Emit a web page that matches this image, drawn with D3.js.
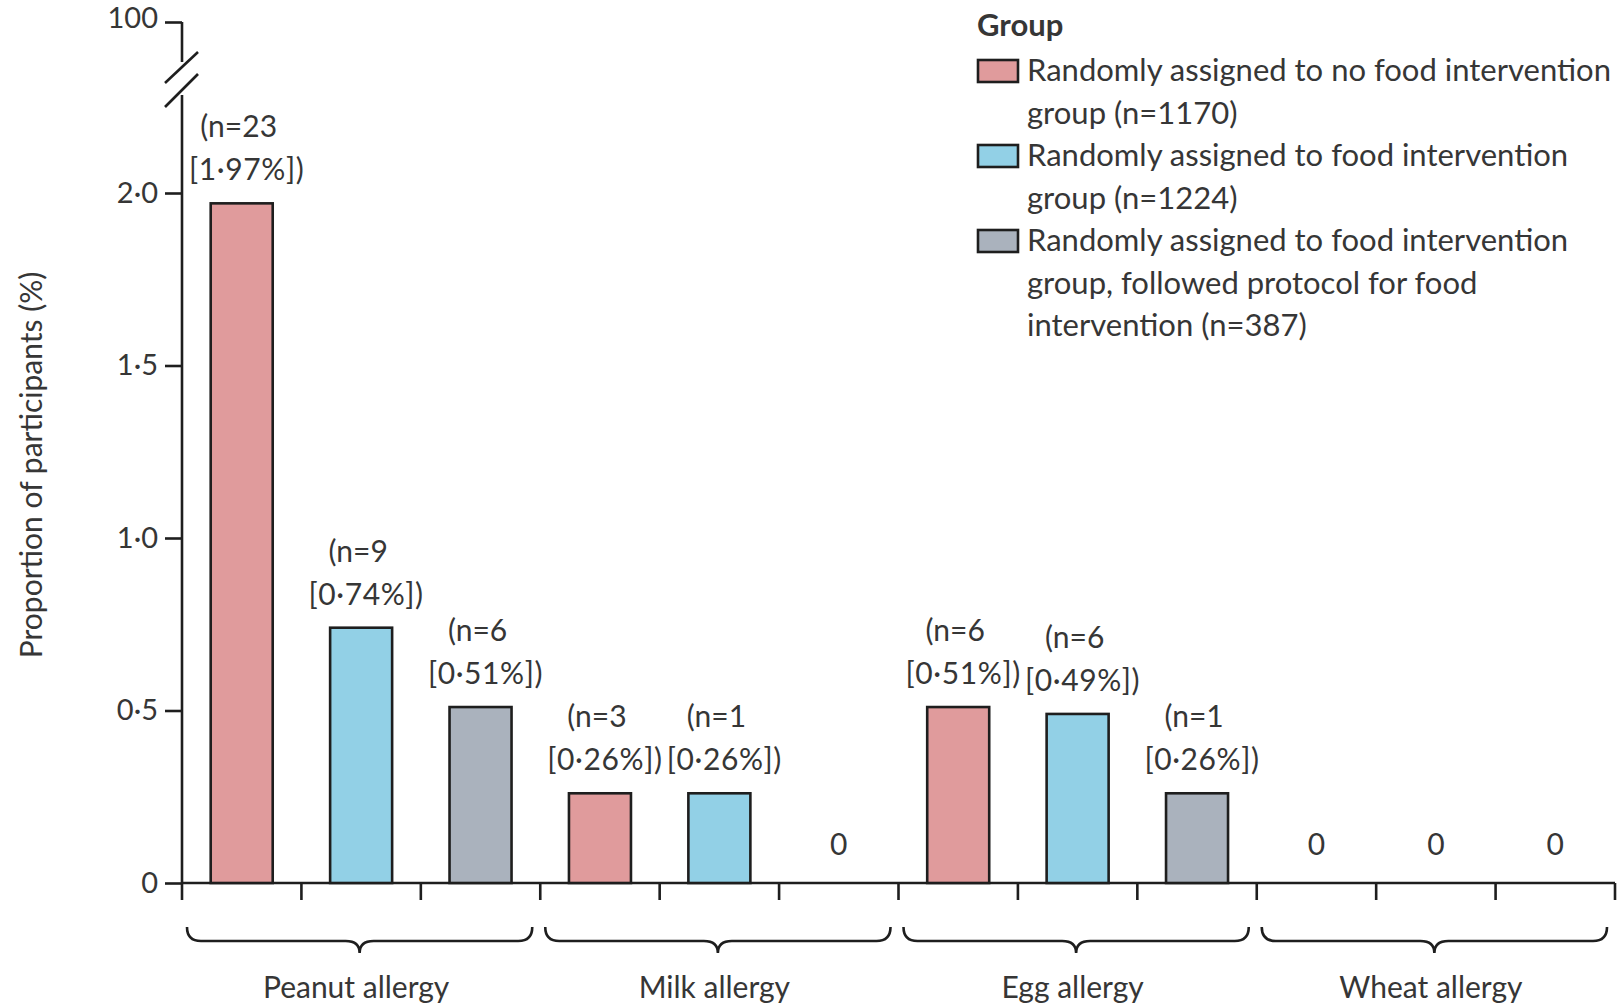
<!DOCTYPE html>
<html>
<head>
<meta charset="utf-8">
<script src="https://cdn.jsdelivr.net/npm/d3@7"></script>
<style>
  html, body { margin: 0; padding: 0; background: #fff; }
  svg { display: block; }
  text { font-family: Lato, "Open Sans", sans-serif; fill: #363636; }
</style>
</head>
<body>
<svg id="chart" width="1621" height="1006"></svg>
<script>
// Food allergy outcomes by randomised group
const categories = ["Peanut allergy", "Milk allergy", "Egg allergy", "Wheat allergy"];
const groups = [
  "Randomly assigned to no food intervention group (n=1170)",
  "Randomly assigned to food intervention group (n=1224)",
  "Randomly assigned to food intervention group, followed protocol for food intervention (n=387)"
];
const legendLines = [
  ["Randomly assigned to no food intervention", "group (n=1170)"],
  ["Randomly assigned to food intervention", "group (n=1224)"],
  ["Randomly assigned to food intervention", "group, followed protocol for food", "intervention (n=387)"]
];
// percentage of participants, one array per group (order follows categories)
const noInterventionPct = [1.97, 0.26, 0.51, 0];
const interventionPct   = [0.74, 0.26, 0.49, 0];
const perProtocolPct    = [0.51, 0,    0.26, 0];
// participant counts behind each percentage
const noInterventionN = [23, 3, 6, 0];
const interventionN   = [9, 1, 6, 0];
const perProtocolN    = [6, 0, 1, 0];
const yTicks = [0, 0.5, 1.0, 1.5, 2.0];
const yBreakTick = [100];

const colors = ["#e09b9c", "#92d0e6", "#aab2bd"];
const stroke = "#1e1e1e";

const svg = d3.select("#chart");

const pctSeries = [noInterventionPct, interventionPct, perProtocolPct];
const nSeries = [noInterventionN, interventionN, perProtocolN];
const rows = [];
categories.forEach((c, ci) => {
  groups.forEach((g, gi) => {
    rows.push({ cat: c, group: gi, value: pctSeries[gi][ci], n: nSeries[gi][ci] });
  });
});

const left = 182, right = 1615, base = 883;
const x0 = d3.scaleBand().domain(categories).range([left, right]).padding(0);
const x1 = d3.scaleBand().domain(d3.range(groups.length)).range([0, x0.bandwidth()]).padding(0);
const barW = 62;
const y = d3.scaleLinear().domain([0, 2]).range([base, 193]);
// upper segment above the axis break
const yTop = d3.scaleLinear().domain([90, 100]).range([62, 22]);

const fmt = v => d3.format(".2f")(v).replace(".", "\u00b7");
const fmtTick = v => (v === 0 ? "0" : d3.format(".1f")(v).replace(".", "\u00b7"));

// y axis (lower part)
const yAxis = svg.append("g").attr("transform", `translate(${left},0)`)
  .call(d3.axisLeft(y).tickValues(yTicks).tickFormat(fmtTick).tickSize(17).tickPadding(7));
yAxis.select(".domain").attr("d", `M0,${base}V95`);
// y axis (upper part)
const yAxisTop = svg.append("g").attr("transform", `translate(${left},0)`)
  .call(d3.axisLeft(yTop).tickValues(yBreakTick).tickSize(17).tickPadding(7));
yAxisTop.select(".domain").attr("d", "M0,22V62");
[yAxis, yAxisTop].forEach(a => {
  a.selectAll(".domain, .tick line").attr("stroke", stroke).attr("stroke-width", 2.6);
  a.selectAll(".tick text").attr("font-size", 29).attr("fill", "#363636")
    .style("font-family", "Lato, 'Open Sans', sans-serif");
});
yAxisTop.selectAll(".tick text").attr("dy", "0.2em");
// break marks
svg.append("g").selectAll("line").data([[83, 52], [107, 74]]).join("line")
  .attr("x1", left - 17).attr("y1", d => d[0]).attr("x2", left + 16).attr("y2", d => d[1])
  .attr("stroke", stroke).attr("stroke-width", 2.6);

// y axis title
svg.append("text")
  .attr("transform", `translate(42,${465}) rotate(-90)`)
  .attr("text-anchor", "middle")
  .attr("font-size", 30)
  .text("Proportion of participants (%)");

// x axis baseline and slot ticks
const slotEdges = [];
categories.forEach(c => d3.range(groups.length).forEach(g => slotEdges.push(x0(c) + x1(g))));
slotEdges.push(right);
svg.append("line").attr("x1", left).attr("x2", right).attr("y1", base).attr("y2", base)
  .attr("stroke", stroke).attr("stroke-width", 2.6);
svg.append("g").selectAll("line").data(slotEdges).join("line")
  .attr("x1", d => d).attr("x2", d => d).attr("y1", base).attr("y2", base + 17)
  .attr("stroke", stroke).attr("stroke-width", 2.6);

// bars
const cx = d => x0(d.cat) + x1(d.group) + x1.bandwidth() / 2;
svg.append("g").selectAll("rect").data(rows.filter(d => d.value > 0)).join("rect")
  .attr("x", d => cx(d) - barW / 2)
  .attr("y", d => y(d.value))
  .attr("width", barW)
  .attr("height", d => base - y(d.value))
  .attr("fill", d => colors[d.group])
  .attr("stroke", stroke).attr("stroke-width", 2.6);

// value labels
const lab = svg.append("g").attr("font-size", 30).attr("text-anchor", "middle");
rows.forEach(d => {
  if (d.value > 0) {
    lab.append("text").attr("x", cx(d) - 3).attr("y", y(d.value) - 66).text(`(n=${d.n}`);
    lab.append("text").attr("x", cx(d) + 5).attr("y", y(d.value) - 23)
      .attr("letter-spacing", 0.6).text(`[${fmt(d.value)}%])`);
  } else {
    lab.append("text").attr("x", cx(d)).attr("y", base - 28).text("0");
  }
});

// category braces
const braceTop = 927, braceMid = 941, braceTip = 953, r = 14;
svg.append("g").selectAll("path").data(categories).join("path")
  .attr("d", c => {
    const a = x0(c) + 5, b = x0(c) + x0.bandwidth() - 8, m = (a + b) / 2;
    return `M${a},${braceTop} Q${a},${braceMid} ${a + r},${braceMid} L${m - r},${braceMid}` +
      ` Q${m},${braceMid} ${m},${braceTip} Q${m},${braceMid} ${m + r},${braceMid}` +
      ` L${b - r},${braceMid} Q${b},${braceMid} ${b},${braceTop}`;
  })
  .attr("fill", "none").attr("stroke", stroke).attr("stroke-width", 2.6);
svg.append("g").attr("font-size", 30).attr("text-anchor", "middle")
  .selectAll("text").data(categories).join("text")
  .attr("x", c => x0(c) + x0.bandwidth() / 2 - 5)
  .attr("y", 998)
  .text(c => c);

// legend
const leg = svg.append("g").attr("transform", "translate(977,0)");
leg.append("text").attr("x", 0).attr("y", 36).attr("font-size", 31).attr("font-weight", 700).text("Group");
const legTops = [60, 145, 230];
legendLines.forEach((lines, i) => {
  leg.append("rect").attr("x", 1).attr("y", legTops[i]).attr("width", 40).attr("height", 22)
    .attr("fill", colors[i]).attr("stroke", stroke).attr("stroke-width", 2.6);
  lines.forEach((t, j) => {
    leg.append("text").attr("x", 50).attr("y", legTops[i] + 21 + j * 42.5)
      .attr("font-size", 31).text(t);
  });
});
</script>
</body>
</html>
